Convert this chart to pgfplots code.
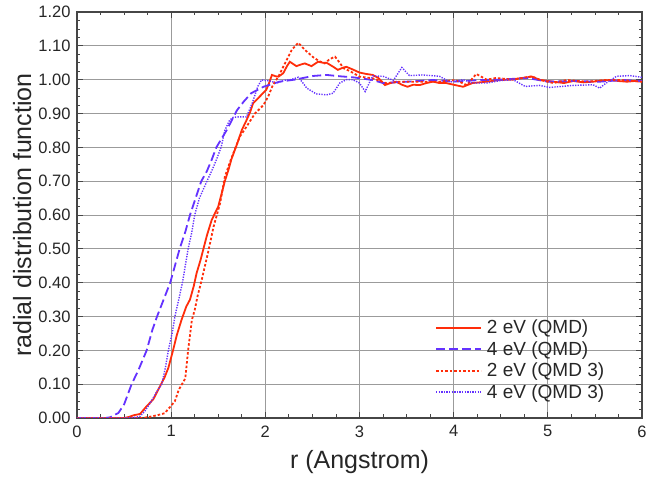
\documentclass[border=0pt]{standalone}
\usepackage{fontspec}
\setmainfont{Liberation Sans}
\usepackage{pgfplots}
\pgfplotsset{compat=1.18}

\definecolor{rdfred}{RGB}{255,45,10}
\definecolor{rdfblue}{RGB}{100,50,255}
\definecolor{gridgray}{RGB}{155,155,155}
\definecolor{framegray}{RGB}{70,70,70}

\begin{document}
\begin{tikzpicture}
\begin{axis}[
  scale only axis,
  width=565bp, height=406bp,
  xmin=0, xmax=6, ymin=0, ymax=1.2,
  xtick={0,1,2,3,4,5,6},
  ytick={0,0.1,0.2,0.3,0.4,0.5,0.6,0.7,0.8,0.9,1.0,1.1,1.2},
  minor x tick num=3,
  minor y tick num=3,
  grid=major,
  major grid style={color=gridgray, line width=0.9bp},
  axis line style={color=framegray, line width=1.3bp},
  tick align=inside,
  major tick length=6bp,
  minor tick length=3.5bp,
  every tick/.style={color=framegray, line width=0.8bp},
  /pgf/number format/assume math mode=true,
  ticklabel style={font=\fontsize{16.5bp}{18bp}\selectfont, text=black!85},
  xticklabel style={yshift=-4bp},
  yticklabel style={xshift=-3bp, /pgf/number format/.cd, fixed, fixed zerofill, precision=2},
  xlabel={r (Angstrom)},
  ylabel={radial distribution function},
  label style={font=\fontsize{25bp}{28bp}\selectfont, text=black!85},
  xlabel style={at={(axis description cs:0.5,-0.108)}, anchor=center},
  ylabel style={at={(axis description cs:-0.097,0.5)}, anchor=center},
  legend style={
    at={(rel axis cs:0.6336,0.2494)}, anchor=north west,
    draw=none, fill=none, inner sep=0pt, row sep=0pt,
    font=\fontsize{19bp}{21.5bp}\selectfont, text=black!85,
    nodes={inner sep=0pt, text height=17bp, text depth=4.5bp},
    /tikz/every odd column/.append style={column sep=5bp},
  },
  legend cell align=left,
  legend image code/.code={\draw[#1] (0bp,0bp) -- (45bp,0bp);},
]

% 2 eV (QMD)
\addplot[color=rdfred, line width=1.8bp] coordinates {
(0,0) (0.3,0) (0.5,0) (0.55,0.003) (0.6,0.008) (0.67,0.012) (0.74,0.035)
(0.81,0.055) (0.88,0.093) (0.93,0.12) (0.97,0.148) (1.02,0.20) (1.06,0.245)
(1.11,0.29) (1.16,0.329) (1.20,0.35) (1.24,0.39) (1.27,0.428) (1.31,0.465)
(1.34,0.497) (1.38,0.54) (1.43,0.585) (1.50,0.625) (1.57,0.70) (1.61,0.735)
(1.64,0.765) (1.70,0.81) (1.75,0.851) (1.80,0.88) (1.84,0.905) (1.87,0.93)
(1.94,0.95) (2.01,0.97) (2.04,0.99) (2.07,1.014) (2.11,1.01) (2.14,1.009)
(2.19,1.019) (2.23,1.04) (2.26,1.053) (2.33,1.04) (2.38,1.045) (2.42,1.048)
(2.49,1.04) (2.56,1.053) (2.61,1.05) (2.65,1.05) (2.71,1.04) (2.77,1.029)
(2.82,1.035) (2.86,1.038) (2.93,1.03) (3.00,1.021) (3.07,1.017) (3.14,1.014)
(3.20,1.005) (3.27,0.984) (3.33,0.99) (3.39,0.994) (3.45,0.985) (3.51,0.979)
(3.57,0.985) (3.64,0.984) (3.71,0.99) (3.78,0.994) (3.85,0.99) (3.92,0.99)
(4.00,0.985) (4.10,0.979) (4.20,0.99) (4.35,0.994) (4.49,0.999) (4.60,1.0)
(4.70,1.004) (4.78,1.007) (4.83,1.009) (4.92,0.999) (5.06,0.994) (5.17,0.99)
(5.27,0.996) (5.38,0.992) (5.48,0.994) (5.57,0.997) (5.66,0.999) (5.75,0.996)
(5.84,0.994) (5.92,0.996) (6.00,0.994)
};
\addlegendentry{2 eV (QMD)}

% 4 eV (QMD)
\addplot[color=rdfblue, line width=1.8bp, dash pattern=on 9bp off 4bp] coordinates {
(0,0) (0.3,0) (0.35,0.002) (0.44,0.015) (0.50,0.04) (0.58,0.10) (0.65,0.14)
(0.74,0.20) (0.80,0.26) (0.85,0.30) (0.92,0.35) (0.99,0.40) (1.04,0.45)
(1.09,0.50) (1.15,0.55) (1.20,0.60) (1.26,0.65) (1.32,0.70) (1.38,0.73)
(1.43,0.763) (1.48,0.80) (1.59,0.851) (1.70,0.91) (1.77,0.935) (1.85,0.96)
(1.98,0.979) (2.15,0.994) (2.31,1.0) (2.51,1.011) (2.65,1.014) (2.79,1.01)
(2.93,1.007) (3.14,0.999) (3.25,0.99) (3.50,0.994) (3.78,0.999) (4.00,0.994)
(4.28,0.999) (4.49,1.0) (4.78,1.005) (5.00,0.994) (5.27,0.996) (5.55,0.994)
(5.80,0.999) (6.00,0.996)
};
\addlegendentry{4 eV (QMD)}

% 2 eV (QMD 3)
\addplot[color=rdfred, line width=1.8bp, dash pattern=on 2.5bp off 2bp] coordinates {
(0,0) (0.7,0) (0.78,0.004) (0.85,0.008) (0.93,0.014) (0.99,0.033) (1.04,0.05)
(1.08,0.083) (1.15,0.117) (1.18,0.20) (1.22,0.29) (1.25,0.319) (1.28,0.36)
(1.32,0.403) (1.39,0.487) (1.45,0.565) (1.52,0.635) (1.57,0.713) (1.62,0.753)
(1.67,0.79) (1.73,0.832) (1.80,0.861) (1.89,0.90) (1.98,0.925) (2.03,0.95)
(2.08,0.984) (2.14,1.01) (2.19,1.038) (2.28,1.088) (2.35,1.109) (2.42,1.088)
(2.51,1.066) (2.57,1.055) (2.63,1.048) (2.68,1.06) (2.74,1.068) (2.79,1.05)
(2.83,1.034) (2.90,1.025) (3.00,1.009) (3.14,1.004) (3.29,0.989) (3.42,0.994)
(3.67,0.994) (3.85,0.994) (4.02,0.999) (4.14,0.984) (4.24,1.017) (4.35,1.0)
(4.45,1.005) (4.63,1.0) (4.83,1.01) (4.92,0.999) (5.06,0.99) (5.20,0.999)
(5.41,0.994) (5.62,0.999) (5.77,0.999) (6.00,0.994)
};
\addlegendentry{2 eV (QMD 3)}

% 4 eV (QMD 3)
\addplot[color=rdfblue, line width=1.4bp, dash pattern=on 1.3bp off 1.3bp] coordinates {
(0,0) (0.5,0) (0.62,0.002) (0.67,0.005) (0.72,0.02) (0.78,0.045) (0.84,0.075)
(0.90,0.10) (0.94,0.15) (0.97,0.20) (1.01,0.25) (1.04,0.30) (1.08,0.35)
(1.12,0.40) (1.15,0.45) (1.18,0.50) (1.22,0.55) (1.25,0.60) (1.30,0.65)
(1.38,0.70) (1.43,0.73) (1.48,0.763) (1.53,0.80) (1.57,0.85) (1.62,0.88)
(1.66,0.889) (1.72,0.89) (1.80,0.89) (1.86,0.93) (1.92,0.98) (1.96,0.999)
(2.05,0.996) (2.12,0.99) (2.20,0.998) (2.27,1.0) (2.35,1.007) (2.40,0.99)
(2.44,0.975) (2.54,0.958) (2.65,0.955) (2.72,0.96) (2.79,0.99) (2.86,1.0)
(2.93,1.0) (3.00,0.99) (3.06,0.965) (3.14,1.011) (3.25,1.01) (3.36,0.998)
(3.45,1.036) (3.53,1.012) (3.67,1.014) (3.85,1.01) (3.96,0.993) (4.10,1.0)
(4.20,0.99) (4.35,0.99) (4.49,0.997) (4.63,1.0) (4.76,0.98) (4.91,0.983)
(5.02,0.977) (5.27,0.983) (5.48,0.985) (5.55,0.975) (5.62,0.99) (5.73,1.01)
(5.87,1.012) (6.00,1.007)
};
\addlegendentry{4 eV (QMD 3)}

\node[anchor=west, font=\fontsize{19bp}{21bp}\selectfont, text=black!85, inner sep=0pt]
  at (axis description cs:-0.1257,-0.11) {(a)};
\end{axis}
\pgfresetboundingbox
\path[use as bounding box] (-77bp,-63bp) rectangle (569bp,418bp);
\end{tikzpicture}
\end{document}
